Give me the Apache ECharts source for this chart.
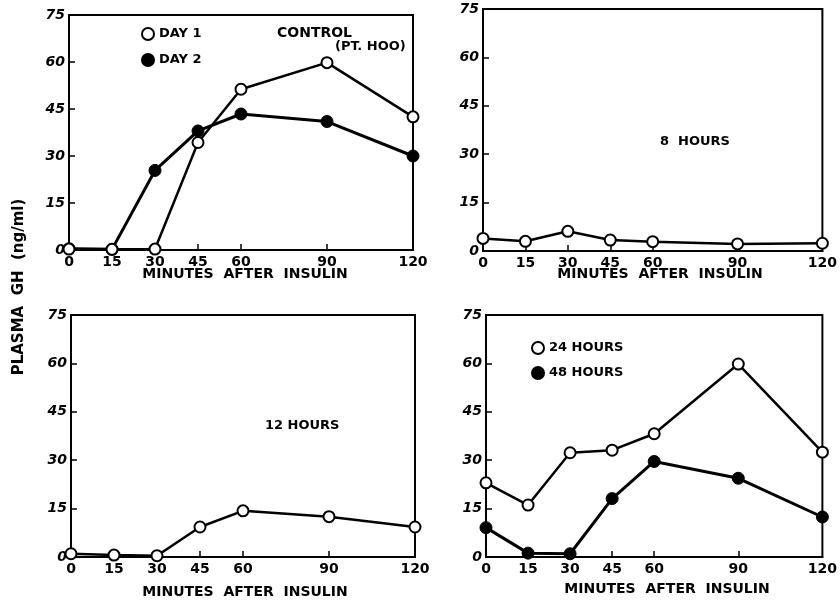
<!DOCTYPE html>
<html>
<head>
<meta charset="utf-8">
<script src="https://cdn.jsdelivr.net/npm/echarts@6/dist/echarts.min.js"></script>
<style>html,body{margin:0;padding:0;background:#fff}#c{width:840px;height:603px}</style>
</head>
<body>
<div id="c"></div>
<script>
// ---- data ----
var minutes = [0, 15, 30, 45, 60, 90, 120];
var xLabelValues = [0, 15, 30, 45, 60, 90, 120];
var xTickValues = [15, 30, 45, 60, 90];
var day1 = [0.3, 0.2, 0.3, 34.3, 51.3, 59.8, 42.5];
var day2 = [0.4, 0.2, 25.4, 38.0, 43.4, 41.0, 30.0];
var hours8 = [3.9, 3.0, 6.1, 3.4, 2.9, 2.2, 2.4];
var hours12 = [1.0, 0.6, 0.4, 9.3, 14.3, 12.5, 9.3];
var hours24 = [23.0, 16.1, 32.3, 33.1, 38.2, 59.8, 32.5];
var hours48 = [9.1, 1.2, 1.0, 18.1, 29.6, 24.4, 12.4];

function pairs(vals) { return minutes.map(function (m, i) { return [m, vals[i]]; }); }

var FONT = 'DejaVu Sans';
var grids = [
  {left: 69, right: 427, top: 15, bottom: 353},
  {left: 483, right: 13, top: 9, bottom: 352},
  {left: 71, right: 425, top: 315, bottom: 46},
  {left: 486, right: 12, top: 315, bottom: 46}
];
grids.forEach(function (g) { g.show = true; g.borderColor = '#000'; g.borderWidth = 2; g.backgroundColor = 'transparent'; });

var xAxes = grids.map(function (g, i) {
  return {
    type: 'value', gridIndex: i, min: 0, max: 120, interval: 15,
    axisLine: {show: true, lineStyle: {color: '#000', width: 2}},
    axisTick: {show: true, inside: true, length: 6, customValues: xTickValues, lineStyle: {color: '#000', width: 1.5}},
    axisLabel: {customValues: xLabelValues, color: '#000', fontFamily: FONT, fontWeight: 'bold', fontSize: 14, margin: 5},
    splitLine: {show: false}
  };
});
var yAxes = grids.map(function (g, i) {
  return {
    type: 'value', gridIndex: i, min: 0, max: 75, interval: 15,
    axisLine: {show: true, lineStyle: {color: '#000', width: 2}},
    axisTick: {show: true, inside: true, length: 6, lineStyle: {color: '#000', width: 1.5}},
    axisLabel: {color: '#000', fontFamily: FONT, fontWeight: 'bold', fontStyle: 'italic', fontSize: 14, margin: 4},
    splitLine: {show: false}
  };
});

function openSeries(name, vals, idx) {
  return {
    name: name, type: 'line', xAxisIndex: idx, yAxisIndex: idx, data: pairs(vals),
    symbol: 'circle', symbolSize: 11, z: 3,
    lineStyle: {color: '#000', width: 2.5},
    itemStyle: {color: '#fff', borderColor: '#000', borderWidth: 2},
    emphasis: {disabled: true}
  };
}
function filledSeries(name, vals, idx) {
  return {
    name: name, type: 'line', xAxisIndex: idx, yAxisIndex: idx, data: pairs(vals),
    symbol: 'circle', symbolSize: 12, z: 2,
    lineStyle: {color: '#000', width: 3},
    itemStyle: {color: '#000', borderColor: '#000', borderWidth: 1},
    emphasis: {disabled: true}
  };
}

function label(text, x, y, size, align) {
  return {type: 'text', x: x, y: y, style: {text: text, fill: '#000', font: 'bold ' + (size || 13) + 'px "DejaVu Sans"', align: align || 'left', verticalAlign: 'middle'}};
}

var legendText = {color: '#000', fontFamily: FONT, fontWeight: 'bold', fontSize: 13};
var option = {
  animation: false,
  backgroundColor: '#fff',
  grid: grids,
  xAxis: xAxes,
  yAxis: yAxes,
  legend: [
    {data: ['DAY 1', 'DAY 2'], orient: 'vertical', left: 141, top: 27, padding: 0, itemWidth: 12, itemHeight: 12, itemGap: 12, icon: 'circle',
     textStyle: legendText, selectedMode: false},
    {data: ['24 HOURS', '48 HOURS'], orient: 'vertical', left: 531, top: 341, padding: 0, itemWidth: 12, itemHeight: 12, itemGap: 11, icon: 'circle',
     textStyle: legendText, selectedMode: false}
  ],
  series: [
    filledSeries('DAY 2', day2, 0),
    openSeries('DAY 1', day1, 0),
    openSeries('8 HOURS', hours8, 1),
    openSeries('12 HOURS', hours12, 2),
    filledSeries('48 HOURS', hours48, 3),
    openSeries('24 HOURS', hours24, 3)
  ],
  graphic: [
    label('CONTROL', 277, 33, 14),
    label('(PT. HOO)', 335, 47, 13),
    label('8  HOURS', 660, 142, 13),
    label('12 HOURS', 265, 426, 13),
    label('MINUTES  AFTER  INSULIN', 245, 274, 14, 'center'),
    label('MINUTES  AFTER  INSULIN', 660, 274, 14, 'center'),
    label('MINUTES  AFTER  INSULIN', 245, 592, 14, 'center'),
    label('MINUTES  AFTER  INSULIN', 667, 589, 14, 'center'),
    {type: 'text', x: 19, y: 287, rotation: Math.PI / 2,
     style: {text: 'PLASMA  GH  (ng/ml)', fill: '#000', font: 'bold 15px "DejaVu Sans"', align: 'center', verticalAlign: 'middle'}}
  ]
};
echarts.init(document.getElementById('c')).setOption(option);
</script>
</body>
</html>
